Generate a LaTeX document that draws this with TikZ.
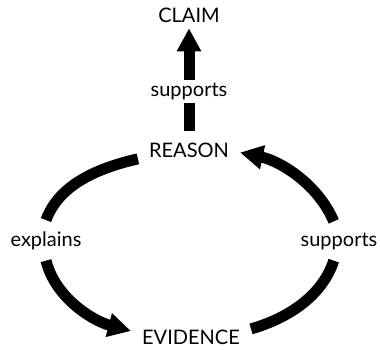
\documentclass[tikz,border=0pt]{standalone}
\usepackage{fontspec}
\setmainfont{Lato}
\usetikzlibrary{arrows.meta}

\begin{document}
\begin{tikzpicture}[x=1pt, y=1pt,
  word/.style={font=\fontsize{20}{24}\selectfont, inner sep=11pt, anchor=base},
  thick arc/.style={line width=11pt},
  big tip/.style={-{Triangle[length=23pt, width=23pt]}}]
\useasboundingbox (0,0) rectangle (380,349);
\node[word, inner sep=5pt] (claim) at (189,326) {CLAIM};
\node[word] (reason) at (189,192) {REASON};
\node[word] (evidence) at (191,4.5) {EVIDENCE};
\node[word] (explains) at (46,103) {explains};
\node[word] (backs) at (339,103) {supports};
\draw[thick arc, big tip] (reason.north) -- (claim.south)
  node[pos=0.39, fill=white, inner sep=3pt, font=\fontsize{20}{24}\selectfont] (upholds) {supports};
\draw[thick arc] (reason.190) to [out=193, in=70, looseness=0.9] (explains.north);
\draw[thick arc, big tip] (explains.south) to [out=-76, in=165, looseness=0.9] (evidence.174);
\draw[thick arc] (evidence.8) to [out=16, in=252, looseness=0.9] (backs.255);
\draw[thick arc, big tip] (backs.105) to [out=113, in=-12, looseness=0.9] (reason.-3);
\end{tikzpicture}
\end{document}
